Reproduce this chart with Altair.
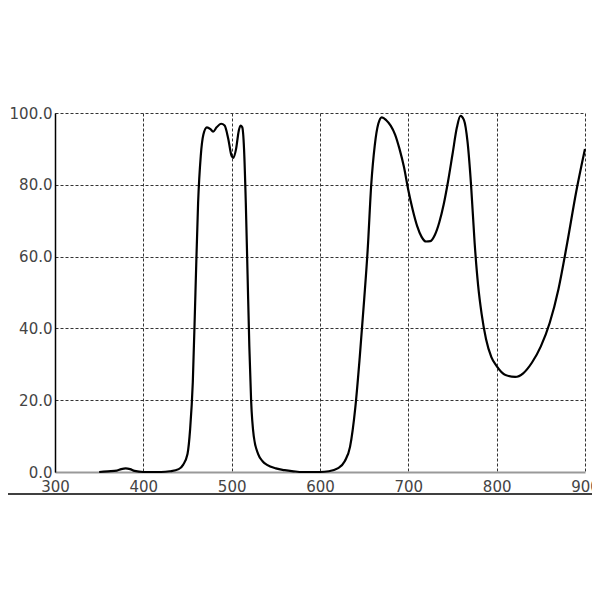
import altair as alt
import pandas as pd

wavelength = [350, 360, 370, 375, 380, 385, 390, 400, 420, 430, 440, 445, 450, 453, 456, 459, 462, 465, 468, 472,
              476, 479, 483, 488, 492, 496, 500, 502, 505, 508, 510, 512, 514, 516, 518, 520, 522, 525, 530, 535,
              540, 550, 560, 570, 580, 600, 610, 620, 628, 634, 640, 645, 650, 654, 658, 662, 666, 670, 675, 680,
              685, 690, 695, 700, 705, 710, 715, 720, 725, 730, 735, 740, 745, 750, 755, 759, 763, 767, 771, 775,
              779, 783, 788, 794, 800, 810, 821, 830, 840, 850, 860, 870, 880, 890, 900]
transmission = [0, 0.2, 0.4, 0.8, 1.0, 0.8, 0.3, 0, 0, 0.2, 0.8, 2, 5, 12, 25, 50, 75, 88, 94, 96,
                95.5, 94.8, 96, 97, 96.5, 93, 88, 87.5, 90, 95, 96.5, 96, 90, 75, 55, 35, 20, 10, 5, 3,
                2, 1, 0.5, 0.2, 0, 0, 0.2, 1, 3, 7, 18, 32, 48, 62, 80, 91, 97, 98.8, 98, 96.5,
                94, 90, 85, 78.5, 73, 68.5, 65.5, 64.2, 64.3, 66, 69.5, 74.5, 81, 88.5, 96, 99.2, 98, 92, 80, 64,
                52, 44, 37, 32, 29.5, 27, 26.5, 27.5, 30.5, 35, 41.5, 51, 64, 78, 90]

x_ticks = [300, 400, 500, 600, 700, 800, 900]
y_ticks = [0, 20, 40, 60, 80, 100]

df = pd.DataFrame({"wl": wavelength, "t": transmission})

FONT = "DejaVu Sans"

line = alt.Chart(df).mark_line(color="black", strokeWidth=2.2, interpolate="monotone").encode(
    x=alt.X("wl:Q", scale=alt.Scale(domain=[300, 900], nice=False, zero=False),
            axis=alt.Axis(values=x_ticks, title=None, grid=True, gridDash=[3, 2], gridColor="#333",
                          gridOpacity=1, gridWidth=1, tickSize=0, labelPadding=7, labelFontSize=15,
                          labelFont=FONT, labelColor="#444", domainColor="#999", domainWidth=2,
                          labelFlush=False)),
    y=alt.Y("t:Q", scale=alt.Scale(domain=[0, 100], nice=False),
            axis=alt.Axis(values=y_ticks, format=".1f", title=None, grid=True, gridDash=[3, 2],
                          gridColor="#333", gridOpacity=1, gridWidth=1, tickSize=0, labelPadding=3,
                          labelFontSize=15, labelFont=FONT, labelColor="#444", domainColor="black",
                          domainWidth=1.5, labelFlush=False)),
)

border = alt.Chart(pd.DataFrame({"a": [0]})).mark_rule(color="black", strokeWidth=1.5).encode(
    x=alt.value(-47), x2=alt.value(537), y=alt.value(381)
)

chart = (line + border).properties(
    width=530, height=359,
    autosize=alt.AutoSizeParams(type="none"),
    padding={"left": 47, "top": 105, "right": 7, "bottom": 100},
).configure_view(stroke=None)

chart.save("out.html", embed_options={"renderer": "svg", "actions": False})
